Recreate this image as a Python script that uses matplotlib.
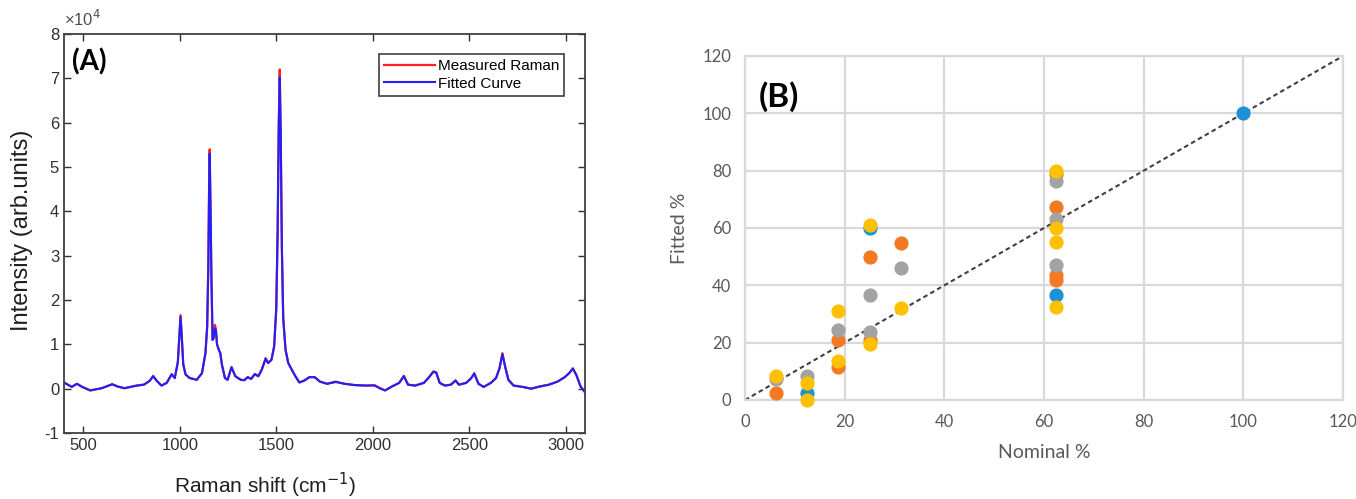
import matplotlib.pyplot as plt
from matplotlib.ticker import FuncFormatter

# ---- panel A: Raman spectrum (counts) ----
shift = [400, 440, 467, 494, 536, 595, 650, 677, 713, 777, 814, 845, 862, 880,
         905, 932, 958, 974, 990, 998, 1004, 1010, 1018, 1030, 1051, 1088, 1115,
         1133, 1142, 1148, 1152, 1155, 1159, 1164, 1170, 1175, 1182, 1187, 1193,
         1202, 1210, 1218, 1234, 1248, 1268, 1288, 1316, 1334, 1352, 1370, 1389,
         1407, 1425, 1445, 1458, 1475, 1489, 1500, 1507, 1513, 1518, 1523, 1529,
         1536, 1548, 1562, 1580, 1599, 1620, 1644, 1672, 1699, 1726, 1763, 1808,
         1854, 1909, 1964, 2009, 2037, 2064, 2100, 2137, 2161, 2183, 2219, 2265,
         2292, 2314, 2329, 2347, 2374, 2405, 2429, 2447, 2484, 2511, 2526, 2548,
         2575, 2612, 2639, 2657, 2672, 2686, 2703, 2730, 2776, 2821, 2867, 2913,
         2958, 2995, 3018, 3037, 3055, 3077, 3100]
measured = [1400, 400, 1100, 400, -400, 100, 1000, 500, 100, 700, 900, 1800, 2900, 1800,
            700, 1300, 3300, 2400, 6000, 12000, 16600, 12000, 5500, 3200, 2400, 2000, 3500,
            8000, 14000, 28000, 46000, 54000, 42000, 25000, 11000, 11500, 14400, 13500, 10000,
            8800, 8000, 5500, 2400, 2000, 4900, 2800, 2000, 1900, 2600, 2200, 3300,
            2800, 4300, 6900, 5800, 6500, 9500, 18000, 35000, 60000, 72000, 58000, 32000,
            16000, 8800, 5800, 4300, 2800, 1400, 1800, 2600, 2600, 1600, 1100, 1600,
            1100, 800, 700, 800, 100, -400, 500, 1300, 2900, 900, 700, 1300,
            2600, 3900, 3700, 1300, 700, 900, 1900, 900, 1300, 2400, 3500, 1100,
            400, 1300, 2400, 4600, 8000, 5000, 2000, 700, 400, 0, 500, 900,
            1600, 2600, 3500, 4600, 3100, 500, -800]
fitted = [1400, 400, 1100, 400, -400, 100, 1000, 500, 100, 700, 900, 1800, 2800, 1800,
          700, 1300, 3200, 2400, 6000, 12000, 16200, 12000, 5500, 3200, 2400, 2000, 3500,
          8000, 14000, 28000, 45500, 53000, 41500, 25000, 11000, 11300, 13600, 13200, 10000,
          8800, 8000, 5500, 2400, 2000, 4800, 2800, 2000, 1900, 2600, 2200, 3300,
          2800, 4300, 6700, 5800, 6500, 9500, 18000, 35000, 59500, 70200, 57500, 32000,
          16000, 8800, 5800, 4300, 2800, 1400, 1800, 2600, 2600, 1600, 1100, 1500,
          1100, 800, 700, 700, 100, -400, 500, 1300, 2800, 900, 700, 1300,
          2600, 3800, 3600, 1300, 700, 900, 1800, 900, 1300, 2400, 3400, 1100,
          400, 1300, 2400, 4600, 7800, 5000, 2000, 700, 400, 0, 500, 900,
          1600, 2600, 3500, 4500, 3100, 500, -800]

# ---- panel B: fitted vs nominal composition (%) ----
blue_x = [12.5, 25, 62.5, 100]
blue_y = [2.6, 60, 36.5, 100]
orange_x = [6.25, 18.75, 18.75, 25, 25, 31.25, 62.5, 62.5, 62.5, 62.5]
orange_y = [2.6, 21, 11.6, 50, 21, 54.6, 79, 67.3, 43.5, 42]
gray_x = [6.25, 12.5, 18.75, 25, 25, 31.25, 62.5, 62.5, 62.5]
gray_y = [7.3, 8.5, 24.4, 36.6, 23.8, 46, 76.5, 63, 47]
yellow_x = [6.25, 12.5, 12.5, 18.75, 18.75, 25, 25, 31.25, 62.5, 62.5, 62.5, 62.5]
yellow_y = [8.2, 6.1, 0, 31, 13.5, 61, 19.5, 32, 80, 60, 55, 32.5]
ideal = [0, 120]

plt.rcParams['font.family'] = ['Liberation Sans', 'DejaVu Sans']
fig = plt.figure(figsize=(13.56, 4.99), dpi=100)

# ---------- (A) ----------
ax = fig.add_axes([64 / 1356, 1 - 433 / 499, (585 - 64) / 1356, (433 - 34) / 499])
ax.plot(shift, measured, color="#FF2020", lw=1.6, label="Measured Raman")
ax.plot(shift, fitted, color="#2020FF", lw=1.5, label="Fitted Curve")
ax.set_xlim(400, 3100)
ax.set_ylim(-10000, 80000)
ax.set_xticks([500, 1000, 1500, 2000, 2500, 3000])
ax.set_yticks(range(-10000, 80001, 10000))
# MATLAB style: plain tick numbers with a common x10^4 factor above the axis
ax.yaxis.set_major_formatter(FuncFormatter(lambda v, p: "{:g}".format(v / 1e4)))
ax.text(0.0, 1.012, "×10$^{4}$", transform=ax.transAxes, fontsize=12,
        color="#505050", ha="left", va="bottom")
ax.tick_params(direction="in", top=True, right=True, length=5, width=1,
               labelsize=12, colors="#303030")
for s in ax.spines.values():
    s.set_color("#404040")
    s.set_linewidth(1.3)
ax.text(0.015, 0.965, "(A)", transform=ax.transAxes, fontsize=20, fontweight="bold",
        va="top", ha="left", family=["Lato", "DejaVu Sans"])
leg = ax.legend(loc="upper right", fontsize=11, handlelength=3.3, handletextpad=0.2,
                borderpad=0.35, labelspacing=0.25, fancybox=False, framealpha=1,
                bbox_to_anchor=(0.975, 0.97))
leg.get_frame().set_edgecolor("#404040")
leg.get_frame().set_linewidth(1.2)
fig.text(22 / 1356, 1 - 230 / 499, "Intensity (arb.units)", rotation=90,
         fontsize=17, ha="center", va="center", color="#202020")
fig.text(265 / 1356, 1 - 485 / 499, "Raman shift (cm$^{-1}$)",
         fontsize=15, ha="center", va="center", color="#202020")

# ---------- (B) ----------
bx = fig.add_axes([745 / 1356, 1 - 400 / 499, (1343 - 745) / 1356, (400 - 56) / 499])
grid_c = "#D9D9D9"
text_c = "#595959"
bx.set_xlim(0, 120)
bx.set_ylim(0, 120)
bx.set_xticks(range(0, 121, 20))
bx.set_yticks(range(0, 121, 20))
bx.grid(True, color=grid_c, lw=1.6)
bx.set_axisbelow(True)
for s in bx.spines.values():
    s.set_color(grid_c)
    s.set_linewidth(1.6)
bx.tick_params(length=0, labelsize=12, colors=text_c, pad=10)
for lab in bx.get_xticklabels() + bx.get_yticklabels():
    lab.set_family(["Lato", "DejaVu Sans"])
bx.plot(ideal, ideal, ls=(0, (2.2, 1.6)), color="#404040", lw=1.5, zorder=2)
msize = 85
bx.scatter(blue_x, blue_y, s=msize, color="#1E90D6", zorder=3, clip_on=False)
bx.scatter(orange_x, orange_y, s=msize, color="#F47A22", zorder=3, clip_on=False)
bx.scatter(gray_x, gray_y, s=msize, color="#A3A3A3", zorder=3, clip_on=False)
bx.scatter(yellow_x, yellow_y, s=msize, color="#FFC000", zorder=3, clip_on=False)
bx.text(2.8, 106, "(B)", fontsize=24, fontweight="bold", va="center", ha="left",
        family=["Lato", "DejaVu Sans"], color="black")
bx.set_xlabel("Nominal %", fontsize=14, color=text_c, family=["Lato", "DejaVu Sans"],
              labelpad=10)
bx.set_ylabel("Fitted %", fontsize=14, color=text_c, family=["Lato", "DejaVu Sans"],
              labelpad=10)

fig.savefig("out.png", dpi=100)
